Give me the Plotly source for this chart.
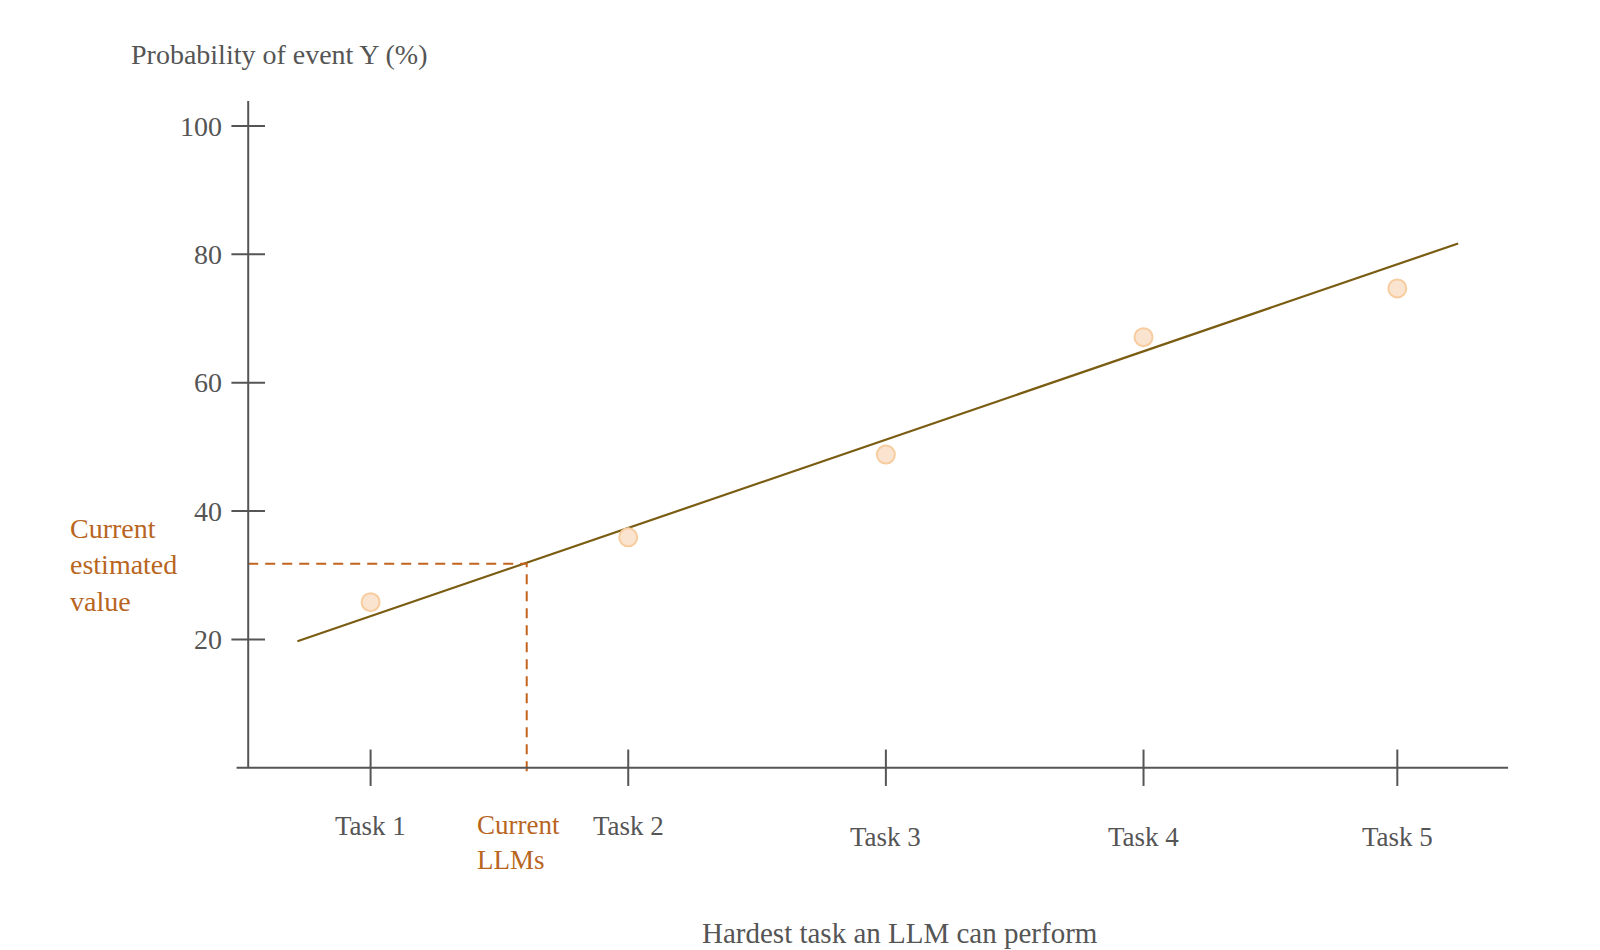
import plotly.graph_objects as go

# data
task_labels = ["Task 1", "Task 2", "Task 3", "Task 4", "Task 5"]
task_x = [1, 2, 3, 4, 4.985]
observed_y = [25.8, 35.9, 48.8, 67.1, 74.7]

fit_x = [0.716, 5.221]
fit_y = [19.7, 81.7]

current_x = 1.606
current_y = 31.8

y_ticks = [20, 40, 60, 80, 100]

# style
FONT = "Liberation Serif"
GREY = "#555555"
ORANGE = "#b8661f"
DASH = "#c2631e"
FIT = "#7a5c12"

y_axis_x = 0.525
x_axis_y = 0.0

W, H = 1600, 950
ML, MR, MT, MB = 208, 78, 93, 171

fig = go.Figure()

# fitted line
fig.add_trace(go.Scatter(
    x=fit_x, y=fit_y, mode="lines",
    line=dict(color=FIT, width=2.2),
    hoverinfo="skip", showlegend=False,
))

# observations
fig.add_trace(go.Scatter(
    x=task_x, y=observed_y, mode="markers",
    marker=dict(size=18, color="#fbe4cf", line=dict(color="#f7cc9f", width=2)),
    showlegend=False,
))

# dashed guide lines for the current estimate
fig.add_trace(go.Scatter(
    x=[y_axis_x, current_x, current_x], y=[current_y, current_y, -1.15],
    mode="lines", line=dict(color=DASH, width=2, dash="10px,7px"),
    hoverinfo="skip", showlegend=False,
))

# axes
fig.add_shape(type="line", x0=y_axis_x, x1=y_axis_x, y0=x_axis_y, y1=103.9,
              line=dict(color=GREY, width=2))
fig.add_shape(type="line", x0=0.48, x1=5.415, y0=x_axis_y, y1=x_axis_y,
              line=dict(color=GREY, width=2))

# cross ticks
fig.add_trace(go.Scatter(
    x=[y_axis_x] * len(y_ticks), y=y_ticks, mode="markers",
    marker=dict(symbol="line-ew", size=24, line=dict(color=GREY, width=2)),
    hoverinfo="skip", showlegend=False,
))
fig.add_trace(go.Scatter(
    x=task_x, y=[x_axis_y] * len(task_x), mode="markers",
    marker=dict(symbol="line-ns", size=26, line=dict(color=GREY, width=2)),
    hoverinfo="skip", showlegend=False,
))

for v in y_ticks:
    fig.add_annotation(
        x=y_axis_x, y=v, xref="x", yref="y", text=str(v), showarrow=False,
        xanchor="right", yanchor="middle", xshift=-24,
        font=dict(family=FONT, size=28, color=GREY),
    )

# task labels (first two sit a little higher)
label_shift = [-58, -58, -69, -69, -69]
for lab, xv, sh in zip(task_labels, task_x, label_shift):
    fig.add_annotation(
        x=xv, y=x_axis_y, xref="x", yref="y", text=lab, showarrow=False,
        xanchor="center", yanchor="middle", yshift=sh,
        font=dict(family=FONT, size=27, color=GREY),
    )

fig.update_layout(
    width=W, height=H,
    margin=dict(l=ML, r=MR, t=MT, b=MB),
    plot_bgcolor="white", paper_bgcolor="white",
    xaxis=dict(range=[0.4, 5.5], visible=False),
    yaxis=dict(range=[-3, 103.9], visible=False),
)

# texts placed by page position
pw = W - ML - MR
ph = H - MT - MB


def px(x):
    return (x - ML) / pw


def py(y):
    return (H - MB - y) / ph


fig.add_annotation(x=px(121), y=py(47), xref="paper", yref="paper",
                   text="Probability of event Y (%)", showarrow=False,
                   xanchor="left", yanchor="middle",
                   font=dict(family=FONT, size=28, color=GREY))
fig.add_annotation(x=px(60), y=py(557), xref="paper", yref="paper",
                   text="Current<br>estimated<br>value", showarrow=False,
                   xanchor="left", yanchor="middle", align="left",
                   font=dict(family=FONT, size=28, color=ORANGE))
fig.add_annotation(x=px(467), y=py(834), xref="paper", yref="paper",
                   text="Current<br>LLMs", showarrow=False,
                   xanchor="left", yanchor="middle", align="left",
                   font=dict(family=FONT, size=27, color=ORANGE))
fig.add_annotation(x=px(892), y=py(925), xref="paper", yref="paper",
                   text="Hardest task an LLM can perform", showarrow=False,
                   xanchor="center", yanchor="middle",
                   font=dict(family=FONT, size=29, color=GREY))

fig.write_html("out.html")
